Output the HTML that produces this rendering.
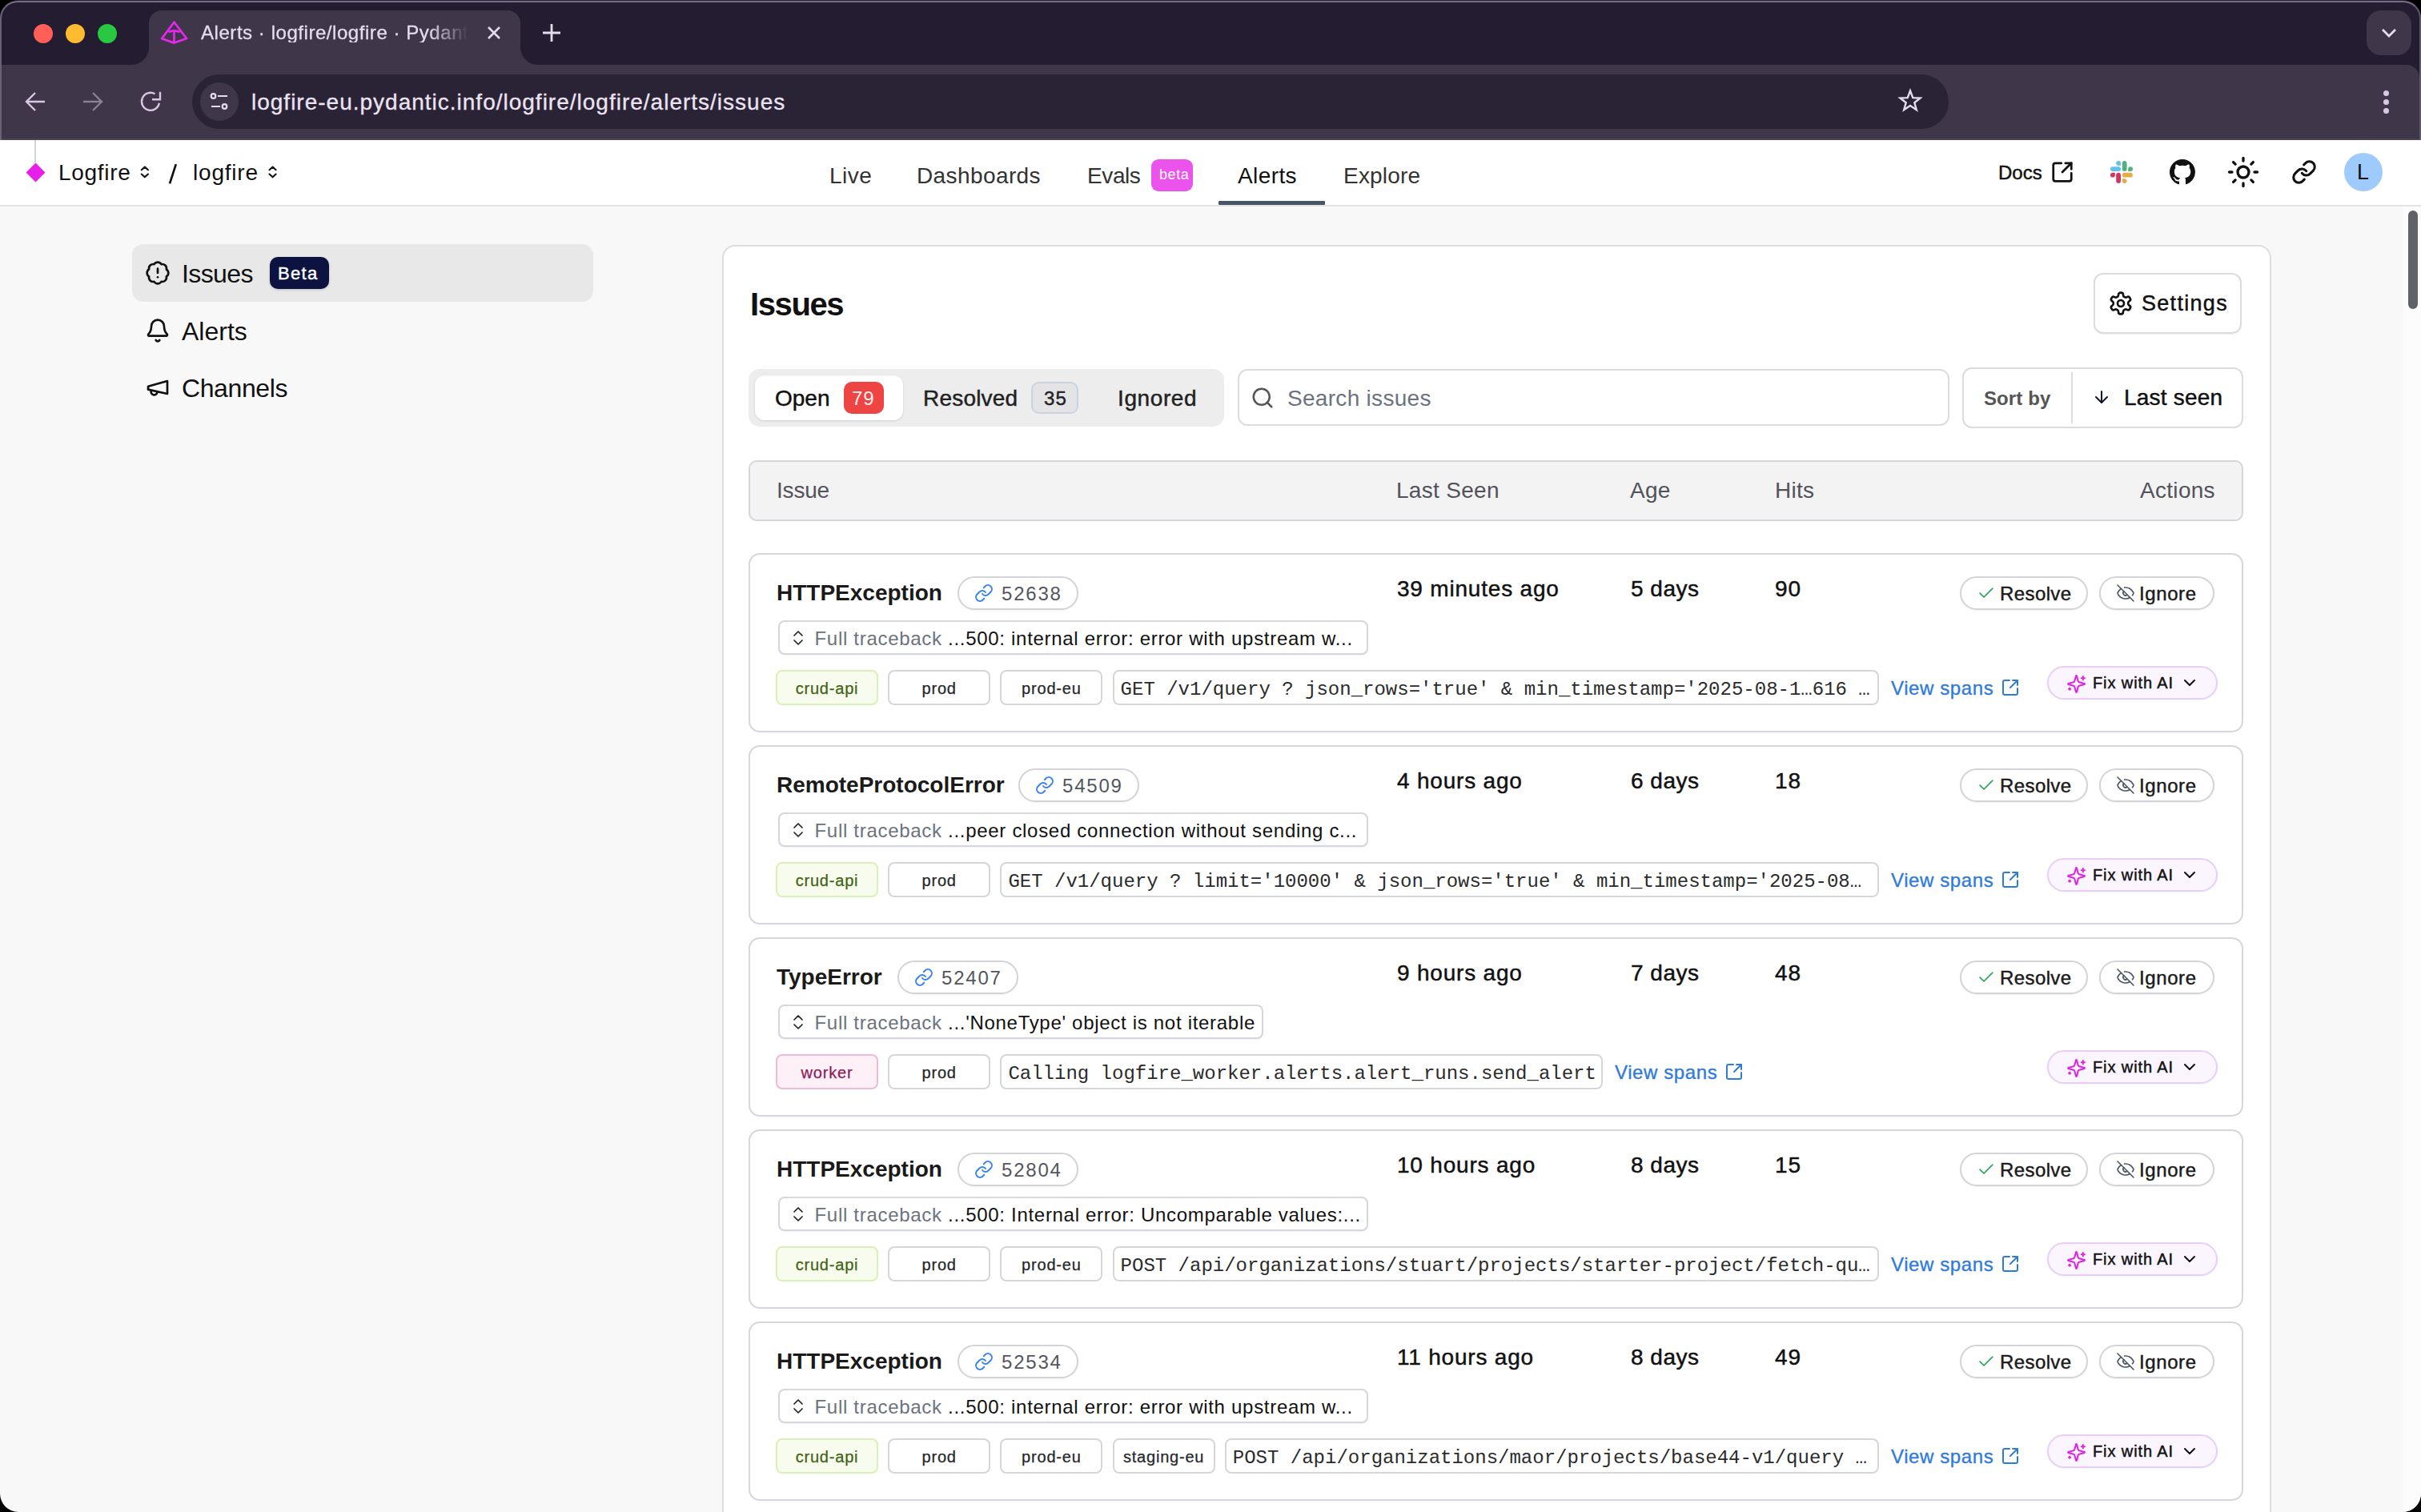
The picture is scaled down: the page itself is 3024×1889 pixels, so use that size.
<!DOCTYPE html>
<html><head><meta charset="utf-8">
<style>
*{box-sizing:border-box;margin:0;padding:0}
html,body{width:3024px;height:1889px;overflow:hidden;background:#000}
body{position:relative;font-family:"Liberation Sans",sans-serif;color:#111}
.a{position:absolute}
.t{position:absolute;white-space:nowrap;line-height:1}
svg{position:absolute;overflow:visible}
#win{left:0;top:0;width:3024px;height:175px;border-radius:22px 22px 0 0;overflow:hidden;background:#241c30}
#winborder{left:0;top:1px;width:3024px;height:174px;border-radius:22px 22px 0 0;border:2px solid #776d86;border-bottom:none;border-left-color:#6a6274;border-right-color:#5f586a;pointer-events:none}
#toolbar{left:0;top:81px;width:3022px;height:94px;background:#3f3649;border-top-right-radius:16px}
#tab{left:186px;top:13px;width:464px;height:70px;background:#3f3649;border-radius:16px 16px 0 0}
.tl{width:24px;height:24px;border-radius:50%;top:30px}
#omni{left:240px;top:93px;width:2194px;height:68px;border-radius:34px;background:#2a2235}
</style></head><body>

<div id='pg' class='a' style='left:0;top:0;width:3024px;height:1889px;overflow:hidden;border-radius:0 0 23px 23px'>
<div class="a" style="left:0px;top:175px;width:3024px;height:1714px;background:#f8f8f8"></div>
<div class="a" style="left:0px;top:175px;width:3024px;height:81px;background:#fff"></div>
<div class="a" style="left:0px;top:256px;width:3024px;height:2px;background:#e3e3e7"></div>
<div class="a" style="left:43px;top:175px;width:2px;height:28px;background:#d1d5db"></div>
<div class="a" style="left:35.5px;top:206.5px;width:17px;height:17px;background:#e620e9;transform:rotate(45deg)"></div>
<div class="t" style="left:73px;top:201.5px;font-size:28px;color:#111;letter-spacing:0.7px;">Logfire</div>
<svg style="left:170px;top:200px" width="200" height="35" viewBox="0 0 200 35" fill="none" stroke="#111" stroke-width="2.1" stroke-linecap="round" stroke-linejoin="round"><path d="M6.8 12.2L10.9 8.6L14.9 12.2M6.8 17.5L10.9 21.3L14.9 17.5M166.5 12.2L170.6 8.6L174.6 12.2M166.5 17.5L170.6 21.3L174.6 17.5"/><path d="M49.8 5.2L42 29.4" stroke-width="2.7" stroke-linecap="butt"/></svg>
<div class="t" style="left:241px;top:201.5px;font-size:28px;color:#111;letter-spacing:0.8px;">logfire</div>
<div class="t" style="left:1036px;top:205.7px;font-size:28px;color:#333;letter-spacing:0.5px;">Live</div>
<div class="t" style="left:1145px;top:205.7px;font-size:28px;color:#333;letter-spacing:0.4px;">Dashboards</div>
<div class="t" style="left:1358px;top:205.7px;font-size:28px;color:#333;letter-spacing:-0.4px;">Evals</div>
<div class="a" style="left:1438px;top:199px;width:52px;height:40px;background:#ec52ec;border-radius:9px"></div>
<div class="t" style="left:1448px;top:209.2px;font-size:18px;color:#fff;letter-spacing:0.6px;">beta</div>
<div class="t" style="left:1546px;top:205.7px;font-size:28px;color:#111;letter-spacing:0.4px;">Alerts</div>
<div class="a" style="left:1522px;top:251px;width:133px;height:5px;background:#475569;border-radius:1px"></div>
<div class="t" style="left:1678px;top:205.7px;font-size:28px;color:#333;letter-spacing:0.2px;">Explore</div>
<div class="t" style="left:2496px;top:203.6px;font-size:24px;color:#111;-webkit-text-stroke:0.45px currentColor;">Docs</div>
<svg style="left:2561px;top:200px" width="30" height="30" viewBox="0 0 24 24" fill="none" stroke="#111" stroke-width="2.2" stroke-linecap="round" stroke-linejoin="round" ><path d="M21 13v6a2 2 0 0 1-2 2H5a2 2 0 0 1-2-2V5a2 2 0 0 1 2-2h6"/><path d="m21 3-9 9"/><path d="M15 3h6v6"/></svg>
<svg style="left:2634px;top:199px" width="32" height="32" viewBox="0 0 32 32">
<path d="M15 7.8H12.1A2.9 2.9 0 1 1 15 4.9Z" fill="#63c1e9"/>
<rect x="2" y="9.2" width="13" height="5.8" rx="2.9" fill="#63c1e9"/>
<rect x="16.8" y="2" width="5.8" height="13" rx="2.9" fill="#55b07f"/>
<path d="M24.2 15V12.1A2.9 2.9 0 1 1 27.1 15Z" fill="#55b07f"/>
<path d="M7.8 16.8V19.7A2.9 2.9 0 1 1 4.9 16.8Z" fill="#cf3760"/>
<rect x="9.2" y="16.8" width="5.8" height="13" rx="2.9" fill="#cf3760"/>
<rect x="16.8" y="16.8" width="13" height="5.8" rx="2.9" fill="#e1ae45"/>
<path d="M16.8 24.2H19.7A2.9 2.9 0 1 1 16.8 27.1Z" fill="#e1ae45"/>
</svg>
<svg style="left:2710px;top:199px" width="32" height="32" viewBox="0 0 16 16"><path fill="#111" d="M8 0C3.58 0 0 3.58 0 8c0 3.54 2.29 6.53 5.47 7.59.4.07.55-.17.55-.38 0-.19-.01-.82-.01-1.49-2.01.37-2.53-.49-2.69-.94-.09-.23-.48-.94-.82-1.13-.28-.15-.68-.52-.01-.53.63-.01 1.08.58 1.23.82.72 1.21 1.87.87 2.33.66.07-.52.28-.87.51-1.07-1.78-.2-3.64-.89-3.64-3.95 0-.87.31-1.59.82-2.15-.08-.2-.36-1.02.08-2.12 0 0 .67-.21 2.2.82.64-.18 1.32-.27 2-.27.68 0 1.36.09 2 .27 1.53-1.04 2.2-.82 2.2-.82.44 1.1.16 1.92.08 2.12.51.56.82 1.27.82 2.15 0 3.07-1.87 3.75-3.65 3.95.29.25.54.73.54 1.48 0 1.07-.01 1.93-.01 2.2 0 .21.15.46.55.38A8.013 8.013 0 0016 8c0-4.42-3.58-8-8-8z"/></svg>
<svg style="left:2781px;top:194px" width="42" height="42" viewBox="0 0 24 24" fill="none" stroke="#111" stroke-width="1.9" stroke-linecap="round" stroke-linejoin="round" ><circle cx="12" cy="12" r="4"/><path d="M12 2v2"/><path d="M12 20v2"/><path d="m4.93 4.93 1.41 1.41"/><path d="m17.66 17.66 1.41 1.41"/><path d="M2 12h2"/><path d="M20 12h2"/><path d="m6.34 17.66-1.41 1.41"/><path d="m19.07 4.93-1.41 1.41"/></svg>
<svg style="left:2862px;top:199px" width="32" height="32" viewBox="0 0 24 24" fill="none" stroke="#111" stroke-width="2.3" stroke-linecap="round" stroke-linejoin="round" ><path d="M10 13a5 5 0 0 0 7.54.54l3-3a5 5 0 0 0-7.07-7.07l-1.72 1.71"/><path d="M14 11a5 5 0 0 0-7.54-.54l-3 3a5 5 0 0 0 7.07 7.07l1.71-1.71"/></svg>
<div class="a" style="left:2928px;top:190.5px;width:48px;height:48px;background:#9ecbfb;border-radius:50%"></div>
<div class="t" style="left:2944px;top:202.1px;font-size:27px;color:#111;">L</div>
<div class="a" style="left:165px;top:305px;width:576px;height:72px;background:#e8e8e8;border-radius:14px"></div>
<svg style="left:181px;top:325.4px" width="32" height="32" viewBox="0 0 24 24" fill="none" stroke="#111" stroke-width="2" stroke-linecap="round" stroke-linejoin="round" ><path d="M3.85 8.62a4 4 0 0 1 4.78-4.77 4 4 0 0 1 6.74 0 4 4 0 0 1 4.78 4.78 4 4 0 0 1 0 6.74 4 4 0 0 1-4.77 4.78 4 4 0 0 1-6.75 0 4 4 0 0 1-4.78-4.77 4 4 0 0 1 0-6.76Z"/><line x1="12" x2="12" y1="8" y2="12"/><line x1="12" x2="12.01" y1="16" y2="16"/></svg>
<div class="t" style="left:227px;top:325.8px;font-size:32px;color:#111;letter-spacing:-0.6px;">Issues</div>
<div class="a" style="left:337px;top:321px;width:74px;height:40px;background:#0c1340;border-radius:10px;box-shadow:0 1px 3px rgba(0,0,0,.2)"></div>
<div class="t" style="left:347px;top:330.8px;font-size:22px;color:#fff;-webkit-text-stroke:0.45px currentColor;letter-spacing:1.3px;-webkit-text-stroke:0.4px #fff;">Beta</div>
<svg style="left:181px;top:396.7px" width="32" height="32" viewBox="0 0 24 24" fill="none" stroke="#111" stroke-width="2" stroke-linecap="round" stroke-linejoin="round" ><path d="M10.268 21a2 2 0 0 0 3.464 0"/><path d="M3.262 15.326A1 1 0 0 0 4 17h16a1 1 0 0 0 .74-1.673C19.41 13.956 18 12.499 18 8A6 6 0 0 0 6 8c0 4.499-1.411 5.956-2.738 7.326"/></svg>
<div class="t" style="left:227px;top:397.8px;font-size:32px;color:#111;">Alerts</div>
<svg style="left:181.3px;top:468.3px" width="32" height="32" viewBox="0 0 24 24" fill="none" stroke="#111" stroke-width="2" stroke-linecap="round" stroke-linejoin="round" ><path d="m3 11 18-5v12L3 14v-3z"/><path d="M11.6 16.8a3 3 0 1 1-5.8-1.6"/></svg>
<div class="t" style="left:227px;top:468.8px;font-size:32px;color:#111;letter-spacing:-0.4px;">Channels</div>
<div class="a" style="left:902px;top:306px;width:1935px;height:1700px;background:#fff;border:2px solid #dcdce1;border-radius:16px"></div>
<div class="t" style="left:937px;top:360.0px;font-size:40px;color:#111;font-weight:700;letter-spacing:-1.4px;">Issues</div>
<div class="a" style="left:2615px;top:341px;width:185px;height:76px;background:#fff;border:2px solid #dcdce0;border-radius:12px;box-shadow:0 1px 2px rgba(0,0,0,.06)"></div>
<svg style="left:2633px;top:363px" width="32" height="32" viewBox="0 0 24 24" fill="none" stroke="#111" stroke-width="2" stroke-linecap="round" stroke-linejoin="round" ><path d="M12.22 2h-.44a2 2 0 0 0-2 2v.18a2 2 0 0 1-1 1.73l-.43.25a2 2 0 0 1-2 0l-.15-.08a2 2 0 0 0-2.73.73l-.22.38a2 2 0 0 0 .73 2.73l.15.1a2 2 0 0 1 1 1.72v.51a2 2 0 0 1-1 1.74l-.15.09a2 2 0 0 0-.73 2.73l.22.38a2 2 0 0 0 2.73.73l.15-.08a2 2 0 0 1 2 0l.43.25a2 2 0 0 1 1 1.73V20a2 2 0 0 0 2 2h.44a2 2 0 0 0 2-2v-.18a2 2 0 0 1 1-1.73l.43-.25a2 2 0 0 1 2 0l.15.08a2 2 0 0 0 2.73-.73l.22-.39a2 2 0 0 0-.73-2.73l-.15-.08a2 2 0 0 1-1-1.74v-.5a2 2 0 0 1 1-1.74l.15-.09a2 2 0 0 0 .73-2.73l-.22-.38a2 2 0 0 0-2.73-.73l-.15.08a2 2 0 0 1-2 0l-.43-.25a2 2 0 0 1-1-1.73V4a2 2 0 0 0-2-2z"/><circle cx="12" cy="12" r="3"/></svg>
<div class="t" style="left:2675px;top:365.8px;font-size:27px;color:#111;-webkit-text-stroke:0.45px currentColor;letter-spacing:1.3px;">Settings</div>
<div class="a" style="left:935px;top:461px;width:594px;height:72px;background:#ededed;border-radius:14px"></div>
<div class="a" style="left:943px;top:469px;width:185px;height:56px;background:#fff;border-radius:12px;box-shadow:0 1px 3px rgba(0,0,0,.12)"></div>
<div class="t" style="left:968px;top:483.6px;font-size:28px;color:#111;-webkit-text-stroke:0.45px currentColor;letter-spacing:0px;">Open</div>
<div class="a" style="left:1054px;top:477px;width:50px;height:40px;background:#ef4444;border-radius:10px"></div>
<div class="t" style="left:1064px;top:485.6px;font-size:24px;color:#fdf0f0;letter-spacing:1.0px;">79</div>
<div class="t" style="left:1153px;top:483.6px;font-size:28px;color:#222;-webkit-text-stroke:0.45px currentColor;letter-spacing:0.2px;">Resolved</div>
<div class="a" style="left:1288px;top:477px;width:59px;height:40px;background:#e4e4e7;border:2px solid #cad3e0;border-radius:10px"></div>
<div class="t" style="left:1304px;top:485.6px;font-size:24px;color:#222;-webkit-text-stroke:0.45px currentColor;letter-spacing:1.2px;">35</div>
<div class="t" style="left:1396px;top:483.6px;font-size:28px;color:#222;-webkit-text-stroke:0.45px currentColor;letter-spacing:0.6px;">Ignored</div>
<div class="a" style="left:1546px;top:461px;width:889px;height:71px;background:#fff;border:2px solid #dcdcdf;border-radius:12px"></div>
<svg style="left:1562px;top:482px" width="30" height="30" viewBox="0 0 24 24" fill="none" stroke="#555" stroke-width="2" stroke-linecap="round" stroke-linejoin="round" ><circle cx="11" cy="11" r="8"/><path d="m21 21-4.3-4.3"/></svg>
<div class="t" style="left:1608px;top:484.2px;font-size:28px;color:#6b7280;letter-spacing:0.3px;">Search issues</div>
<div class="a" style="left:2451px;top:459px;width:351px;height:76px;background:#fff;border:2px solid #dcdcdf;border-radius:12px"></div>
<div class="a" style="left:2587px;top:465px;width:2px;height:64px;background:#dcdde1"></div>
<div class="t" style="left:2478px;top:485.9px;font-size:24px;color:#555;font-weight:700;letter-spacing:0.1px;">Sort by</div>
<svg style="left:2613px;top:484px" width="24" height="24" viewBox="0 0 24 24" fill="none" stroke="#0f172a" stroke-width="2" stroke-linecap="round" stroke-linejoin="round" ><path d="M12 5v14"/><path d="m19 12-7 7-7-7"/></svg>
<div class="t" style="left:2653px;top:482.7px;font-size:28px;color:#111;-webkit-text-stroke:0.45px currentColor;letter-spacing:0.2px;">Last seen</div>
<div class="a" style="left:935px;top:575px;width:1867px;height:76px;background:#f3f3f4;border:2px solid #d5d6db;border-radius:10px"></div>
<div class="t" style="left:970px;top:599.2px;font-size:28px;color:#52525b;letter-spacing:-0.2px;">Issue</div>
<div class="t" style="left:1744px;top:599.2px;font-size:28px;color:#52525b;letter-spacing:0.3px;">Last Seen</div>
<div class="t" style="left:2036px;top:599.2px;font-size:28px;color:#52525b;letter-spacing:0.3px;">Age</div>
<div class="t" style="left:2217px;top:599.2px;font-size:28px;color:#52525b;letter-spacing:0.3px;">Hits</div>
<div class="t" style="left:2673px;top:599.2px;font-size:28px;color:#52525b;letter-spacing:0.3px;">Actions</div>
<div class="a" style="left:935px;top:691px;width:1867px;height:224px;background:#fff;border:2px solid #d5d7dc;border-radius:14px"></div>
<div class="t" style="left:970px;top:727.2px;font-size:28px;color:#1a1a1a;font-weight:700;letter-spacing:0px;">HTTPException</div>
<div class="a" style="left:1196px;top:720px;width:151px;height:42px;background:#fff;border:2px solid #d4d4d8;border-radius:21px;box-shadow:0 1px 2px rgba(0,0,0,.05)"></div>
<svg style="left:1217px;top:729px" width="24" height="24" viewBox="0 0 24 24" fill="none" stroke="#3b82f6" stroke-width="2" stroke-linecap="round" stroke-linejoin="round" ><path d="M10 13a5 5 0 0 0 7.54.54l3-3a5 5 0 0 0-7.07-7.07l-1.72 1.71"/><path d="M14 11a5 5 0 0 0-7.54-.54l-3 3a5 5 0 0 0 7.07 7.07l1.71-1.71"/></svg>
<div class="t" style="left:1251px;top:729.6px;font-size:24px;color:#52575e;letter-spacing:1.8px;">52638</div>
<div class="t" style="left:1745px;top:722.2px;font-size:28px;color:#111;-webkit-text-stroke:0.45px currentColor;letter-spacing:0.8px;">39 minutes ago</div>
<div class="t" style="left:2037px;top:722.2px;font-size:28px;color:#111;-webkit-text-stroke:0.45px currentColor;letter-spacing:0.5px;">5 days</div>
<div class="t" style="left:2217px;top:722.2px;font-size:28px;color:#111;-webkit-text-stroke:0.45px currentColor;letter-spacing:1.0px;">90</div>
<div class="a" style="left:2448px;top:720px;width:160px;height:42px;background:#fff;border:2px solid #d4d4d8;border-radius:21px;box-shadow:0 1px 2px rgba(0,0,0,.06)"></div>
<svg style="left:2469px;top:729px" width="24" height="24" viewBox="0 0 24 24" fill="none" stroke="#16a34a" stroke-width="1.6" stroke-linecap="round" stroke-linejoin="round" ><path d="M20 6 9 17l-5-5"/></svg>
<div class="t" style="left:2498px;top:729.6px;font-size:24px;color:#1a1a1a;-webkit-text-stroke:0.45px currentColor;letter-spacing:0.4px;">Resolve</div>
<div class="a" style="left:2622px;top:720px;width:144px;height:42px;background:#fff;border:2px solid #d4d4d8;border-radius:21px;box-shadow:0 1px 2px rgba(0,0,0,.06)"></div>
<svg style="left:2643px;top:729px" width="24" height="24" viewBox="0 0 24 24" fill="none" stroke="#4b5563" stroke-width="1.6" stroke-linecap="round" stroke-linejoin="round" ><path d="M10.733 5.076a10.744 10.744 0 0 1 11.205 6.575 1 1 0 0 1 0 .696 10.747 10.747 0 0 1-1.444 2.49"/><path d="M14.084 14.158a3 3 0 0 1-4.242-4.242"/><path d="M17.479 17.499a10.75 10.75 0 0 1-15.417-5.151 1 1 0 0 1 0-.696 10.75 10.75 0 0 1 4.446-5.143"/><path d="m2 2 20 20"/></svg>
<div class="t" style="left:2672px;top:729.6px;font-size:24px;color:#1a1a1a;-webkit-text-stroke:0.45px currentColor;letter-spacing:0.6px;">Ignore</div>
<div class="a" style="left:972px;top:775px;width:737px;height:43px;background:#fff;border:2px solid #d6d6dc;border-radius:8px;box-shadow:0 1px 2px rgba(0,0,0,.06)"></div>
<svg style="left:985px;top:785px" width="24" height="24" viewBox="0 0 24 24" fill="none" stroke="#222" stroke-width="1.7" stroke-linecap="round" stroke-linejoin="round" ><path d="m7 15 5 5 5-5"/><path d="m7 9 5-5 5 5"/></svg>
<div class="t" style="left:1017.5px;top:785.6px;font-size:24px;color:#111;letter-spacing:0.7px;"><span style="color:#6b7280">Full traceback</span> ...500: internal error: error with upstream w...</div>
<div class="a" style="left:969px;top:837px;width:128px;height:44px;background:#f7fcee;border:2px solid #d9f1b2;border-radius:8px"></div>
<div class="t" style="left:969px;top:849.5px;font-size:20px;color:#416414;letter-spacing:0.8px;width:128px;text-align:center;-webkit-text-stroke:0.25px #416414;">crud-api</div>
<div class="a" style="left:1109.2px;top:837px;width:128px;height:44px;background:#fff;border:2px solid #d4d6db;border-radius:8px"></div>
<div class="t" style="left:1109.2px;top:849.5px;font-size:20px;color:#27272a;letter-spacing:0.8px;width:128px;text-align:center;-webkit-text-stroke:0.25px #27272a;">prod</div>
<div class="a" style="left:1249.4px;top:837px;width:128px;height:44px;background:#fff;border:2px solid #d4d6db;border-radius:8px"></div>
<div class="t" style="left:1249.4px;top:849.5px;font-size:20px;color:#27272a;letter-spacing:0.8px;width:128px;text-align:center;-webkit-text-stroke:0.25px #27272a;">prod-eu</div>
<div class="a" style="left:1389.6000000000001px;top:837px;width:957.3999999999999px;height:44px;background:#fff;border:2px solid #d4d6db;border-radius:8px"></div>
<div class="t" style="left:1399.6000000000001px;top:849.8px;font-size:24px;color:#2b2b2b;letter-spacing:0px;font-family:'Liberation Mono',monospace;width:937.3999999999999px;overflow:hidden;">GET /v1/query ? json_rows=&#x27;true&#x27; &amp; min_timestamp=&#x27;2025-08-1…616 …</div>
<div class="t" style="left:2362px;top:847.6px;font-size:24px;color:#2f7bd9;letter-spacing:0.6px;-webkit-text-stroke:0.35px #2f7bd9;">View spans</div>
<svg style="left:2499px;top:847px" width="24" height="24" viewBox="0 0 24 24" fill="none" stroke="#2f7bd9" stroke-width="2" stroke-linecap="round" stroke-linejoin="round" ><path d="M21 13v6a2 2 0 0 1-2 2H5a2 2 0 0 1-2-2V5a2 2 0 0 1 2-2h6"/><path d="m21 3-9 9"/><path d="M15 3h6v6"/></svg>
<div class="a" style="left:2557px;top:832px;width:213px;height:42px;background:#faf5ff;border:2px solid #e8cffa;border-radius:21px;box-shadow:0 1px 2px rgba(0,0,0,.05)"></div>
<svg style="left:2581px;top:842px" width="25" height="25" viewBox="0 0 24 24" fill="none" stroke="#e026e5" stroke-width="2" stroke-linecap="round" stroke-linejoin="round" ><path d="M9.937 15.5A2 2 0 0 0 8.5 14.063l-6.135-1.582a.5.5 0 0 1 0-.962L8.5 9.936A2 2 0 0 0 9.937 8.5l1.582-6.135a.5.5 0 0 1 .963 0L14.063 8.5A2 2 0 0 0 15.5 9.937l6.135 1.581a.5.5 0 0 1 0 .964L15.5 14.063a2 2 0 0 0-1.437 1.437l-1.582 6.135a.5.5 0 0 1-.963 0z"/><path d="M20 3v4"/><path d="M22 5h-4"/><path d="M4 17v2"/><path d="M5 18H3"/></svg>
<div class="t" style="left:2614px;top:843.0px;font-size:20px;color:#111;-webkit-text-stroke:0.45px currentColor;letter-spacing:0.9px;">Fix with AI</div>
<svg style="left:2723px;top:841px" width="24" height="24" viewBox="0 0 24 24" fill="none" stroke="#111" stroke-width="2" stroke-linecap="round" stroke-linejoin="round" ><path d="m6 9 6 6 6-6"/></svg>
<div class="a" style="left:935px;top:931px;width:1867px;height:224px;background:#fff;border:2px solid #d5d7dc;border-radius:14px"></div>
<div class="t" style="left:970px;top:967.2px;font-size:28px;color:#1a1a1a;font-weight:700;letter-spacing:0px;">RemoteProtocolError</div>
<div class="a" style="left:1272px;top:960px;width:151px;height:42px;background:#fff;border:2px solid #d4d4d8;border-radius:21px;box-shadow:0 1px 2px rgba(0,0,0,.05)"></div>
<svg style="left:1293px;top:969px" width="24" height="24" viewBox="0 0 24 24" fill="none" stroke="#3b82f6" stroke-width="2" stroke-linecap="round" stroke-linejoin="round" ><path d="M10 13a5 5 0 0 0 7.54.54l3-3a5 5 0 0 0-7.07-7.07l-1.72 1.71"/><path d="M14 11a5 5 0 0 0-7.54-.54l-3 3a5 5 0 0 0 7.07 7.07l1.71-1.71"/></svg>
<div class="t" style="left:1327px;top:969.6px;font-size:24px;color:#52575e;letter-spacing:1.8px;">54509</div>
<div class="t" style="left:1745px;top:962.2px;font-size:28px;color:#111;-webkit-text-stroke:0.45px currentColor;letter-spacing:0.8px;">4 hours ago</div>
<div class="t" style="left:2037px;top:962.2px;font-size:28px;color:#111;-webkit-text-stroke:0.45px currentColor;letter-spacing:0.5px;">6 days</div>
<div class="t" style="left:2217px;top:962.2px;font-size:28px;color:#111;-webkit-text-stroke:0.45px currentColor;letter-spacing:1.0px;">18</div>
<div class="a" style="left:2448px;top:960px;width:160px;height:42px;background:#fff;border:2px solid #d4d4d8;border-radius:21px;box-shadow:0 1px 2px rgba(0,0,0,.06)"></div>
<svg style="left:2469px;top:969px" width="24" height="24" viewBox="0 0 24 24" fill="none" stroke="#16a34a" stroke-width="1.6" stroke-linecap="round" stroke-linejoin="round" ><path d="M20 6 9 17l-5-5"/></svg>
<div class="t" style="left:2498px;top:969.6px;font-size:24px;color:#1a1a1a;-webkit-text-stroke:0.45px currentColor;letter-spacing:0.4px;">Resolve</div>
<div class="a" style="left:2622px;top:960px;width:144px;height:42px;background:#fff;border:2px solid #d4d4d8;border-radius:21px;box-shadow:0 1px 2px rgba(0,0,0,.06)"></div>
<svg style="left:2643px;top:969px" width="24" height="24" viewBox="0 0 24 24" fill="none" stroke="#4b5563" stroke-width="1.6" stroke-linecap="round" stroke-linejoin="round" ><path d="M10.733 5.076a10.744 10.744 0 0 1 11.205 6.575 1 1 0 0 1 0 .696 10.747 10.747 0 0 1-1.444 2.49"/><path d="M14.084 14.158a3 3 0 0 1-4.242-4.242"/><path d="M17.479 17.499a10.75 10.75 0 0 1-15.417-5.151 1 1 0 0 1 0-.696 10.75 10.75 0 0 1 4.446-5.143"/><path d="m2 2 20 20"/></svg>
<div class="t" style="left:2672px;top:969.6px;font-size:24px;color:#1a1a1a;-webkit-text-stroke:0.45px currentColor;letter-spacing:0.6px;">Ignore</div>
<div class="a" style="left:972px;top:1015px;width:737px;height:43px;background:#fff;border:2px solid #d6d6dc;border-radius:8px;box-shadow:0 1px 2px rgba(0,0,0,.06)"></div>
<svg style="left:985px;top:1025px" width="24" height="24" viewBox="0 0 24 24" fill="none" stroke="#222" stroke-width="1.7" stroke-linecap="round" stroke-linejoin="round" ><path d="m7 15 5 5 5-5"/><path d="m7 9 5-5 5 5"/></svg>
<div class="t" style="left:1017.5px;top:1025.6px;font-size:24px;color:#111;letter-spacing:0.7px;"><span style="color:#6b7280">Full traceback</span> ...peer closed connection without sending c...</div>
<div class="a" style="left:969px;top:1077px;width:128px;height:44px;background:#f7fcee;border:2px solid #d9f1b2;border-radius:8px"></div>
<div class="t" style="left:969px;top:1089.5px;font-size:20px;color:#416414;letter-spacing:0.8px;width:128px;text-align:center;-webkit-text-stroke:0.25px #416414;">crud-api</div>
<div class="a" style="left:1109.2px;top:1077px;width:128px;height:44px;background:#fff;border:2px solid #d4d6db;border-radius:8px"></div>
<div class="t" style="left:1109.2px;top:1089.5px;font-size:20px;color:#27272a;letter-spacing:0.8px;width:128px;text-align:center;-webkit-text-stroke:0.25px #27272a;">prod</div>
<div class="a" style="left:1249.4px;top:1077px;width:1097.6px;height:44px;background:#fff;border:2px solid #d4d6db;border-radius:8px"></div>
<div class="t" style="left:1259.4px;top:1089.8px;font-size:24px;color:#2b2b2b;letter-spacing:0px;font-family:'Liberation Mono',monospace;width:1077.6px;overflow:hidden;">GET /v1/query ? limit=&#x27;10000&#x27; &amp; json_rows=&#x27;true&#x27; &amp; min_timestamp=&#x27;2025-08…</div>
<div class="t" style="left:2362px;top:1087.6px;font-size:24px;color:#2f7bd9;letter-spacing:0.6px;-webkit-text-stroke:0.35px #2f7bd9;">View spans</div>
<svg style="left:2499px;top:1087px" width="24" height="24" viewBox="0 0 24 24" fill="none" stroke="#2f7bd9" stroke-width="2" stroke-linecap="round" stroke-linejoin="round" ><path d="M21 13v6a2 2 0 0 1-2 2H5a2 2 0 0 1-2-2V5a2 2 0 0 1 2-2h6"/><path d="m21 3-9 9"/><path d="M15 3h6v6"/></svg>
<div class="a" style="left:2557px;top:1072px;width:213px;height:42px;background:#faf5ff;border:2px solid #e8cffa;border-radius:21px;box-shadow:0 1px 2px rgba(0,0,0,.05)"></div>
<svg style="left:2581px;top:1082px" width="25" height="25" viewBox="0 0 24 24" fill="none" stroke="#e026e5" stroke-width="2" stroke-linecap="round" stroke-linejoin="round" ><path d="M9.937 15.5A2 2 0 0 0 8.5 14.063l-6.135-1.582a.5.5 0 0 1 0-.962L8.5 9.936A2 2 0 0 0 9.937 8.5l1.582-6.135a.5.5 0 0 1 .963 0L14.063 8.5A2 2 0 0 0 15.5 9.937l6.135 1.581a.5.5 0 0 1 0 .964L15.5 14.063a2 2 0 0 0-1.437 1.437l-1.582 6.135a.5.5 0 0 1-.963 0z"/><path d="M20 3v4"/><path d="M22 5h-4"/><path d="M4 17v2"/><path d="M5 18H3"/></svg>
<div class="t" style="left:2614px;top:1083.0px;font-size:20px;color:#111;-webkit-text-stroke:0.45px currentColor;letter-spacing:0.9px;">Fix with AI</div>
<svg style="left:2723px;top:1081px" width="24" height="24" viewBox="0 0 24 24" fill="none" stroke="#111" stroke-width="2" stroke-linecap="round" stroke-linejoin="round" ><path d="m6 9 6 6 6-6"/></svg>
<div class="a" style="left:935px;top:1171px;width:1867px;height:224px;background:#fff;border:2px solid #d5d7dc;border-radius:14px"></div>
<div class="t" style="left:970px;top:1207.2px;font-size:28px;color:#1a1a1a;font-weight:700;letter-spacing:0px;">TypeError</div>
<div class="a" style="left:1121px;top:1200px;width:151px;height:42px;background:#fff;border:2px solid #d4d4d8;border-radius:21px;box-shadow:0 1px 2px rgba(0,0,0,.05)"></div>
<svg style="left:1142px;top:1209px" width="24" height="24" viewBox="0 0 24 24" fill="none" stroke="#3b82f6" stroke-width="2" stroke-linecap="round" stroke-linejoin="round" ><path d="M10 13a5 5 0 0 0 7.54.54l3-3a5 5 0 0 0-7.07-7.07l-1.72 1.71"/><path d="M14 11a5 5 0 0 0-7.54-.54l-3 3a5 5 0 0 0 7.07 7.07l1.71-1.71"/></svg>
<div class="t" style="left:1176px;top:1209.6px;font-size:24px;color:#52575e;letter-spacing:1.8px;">52407</div>
<div class="t" style="left:1745px;top:1202.2px;font-size:28px;color:#111;-webkit-text-stroke:0.45px currentColor;letter-spacing:0.8px;">9 hours ago</div>
<div class="t" style="left:2037px;top:1202.2px;font-size:28px;color:#111;-webkit-text-stroke:0.45px currentColor;letter-spacing:0.5px;">7 days</div>
<div class="t" style="left:2217px;top:1202.2px;font-size:28px;color:#111;-webkit-text-stroke:0.45px currentColor;letter-spacing:1.0px;">48</div>
<div class="a" style="left:2448px;top:1200px;width:160px;height:42px;background:#fff;border:2px solid #d4d4d8;border-radius:21px;box-shadow:0 1px 2px rgba(0,0,0,.06)"></div>
<svg style="left:2469px;top:1209px" width="24" height="24" viewBox="0 0 24 24" fill="none" stroke="#16a34a" stroke-width="1.6" stroke-linecap="round" stroke-linejoin="round" ><path d="M20 6 9 17l-5-5"/></svg>
<div class="t" style="left:2498px;top:1209.6px;font-size:24px;color:#1a1a1a;-webkit-text-stroke:0.45px currentColor;letter-spacing:0.4px;">Resolve</div>
<div class="a" style="left:2622px;top:1200px;width:144px;height:42px;background:#fff;border:2px solid #d4d4d8;border-radius:21px;box-shadow:0 1px 2px rgba(0,0,0,.06)"></div>
<svg style="left:2643px;top:1209px" width="24" height="24" viewBox="0 0 24 24" fill="none" stroke="#4b5563" stroke-width="1.6" stroke-linecap="round" stroke-linejoin="round" ><path d="M10.733 5.076a10.744 10.744 0 0 1 11.205 6.575 1 1 0 0 1 0 .696 10.747 10.747 0 0 1-1.444 2.49"/><path d="M14.084 14.158a3 3 0 0 1-4.242-4.242"/><path d="M17.479 17.499a10.75 10.75 0 0 1-15.417-5.151 1 1 0 0 1 0-.696 10.75 10.75 0 0 1 4.446-5.143"/><path d="m2 2 20 20"/></svg>
<div class="t" style="left:2672px;top:1209.6px;font-size:24px;color:#1a1a1a;-webkit-text-stroke:0.45px currentColor;letter-spacing:0.6px;">Ignore</div>
<div class="a" style="left:972px;top:1255px;width:606px;height:43px;background:#fff;border:2px solid #d6d6dc;border-radius:8px;box-shadow:0 1px 2px rgba(0,0,0,.06)"></div>
<svg style="left:985px;top:1265px" width="24" height="24" viewBox="0 0 24 24" fill="none" stroke="#222" stroke-width="1.7" stroke-linecap="round" stroke-linejoin="round" ><path d="m7 15 5 5 5-5"/><path d="m7 9 5-5 5 5"/></svg>
<div class="t" style="left:1017.5px;top:1265.6px;font-size:24px;color:#111;letter-spacing:0.7px;"><span style="color:#6b7280">Full traceback</span> ...&#x27;NoneType&#x27; object is not iterable</div>
<div class="a" style="left:969px;top:1317px;width:128px;height:44px;background:#fdf0f7;border:2px solid #f0b9d6;border-radius:8px"></div>
<div class="t" style="left:969px;top:1329.5px;font-size:20px;color:#8a1c5c;letter-spacing:0.8px;width:128px;text-align:center;-webkit-text-stroke:0.25px #8a1c5c;">worker</div>
<div class="a" style="left:1109.2px;top:1317px;width:128px;height:44px;background:#fff;border:2px solid #d4d6db;border-radius:8px"></div>
<div class="t" style="left:1109.2px;top:1329.5px;font-size:20px;color:#27272a;letter-spacing:0.8px;width:128px;text-align:center;-webkit-text-stroke:0.25px #27272a;">prod</div>
<div class="a" style="left:1249.4px;top:1317px;width:752.5999999999999px;height:44px;background:#fff;border:2px solid #d4d6db;border-radius:8px"></div>
<div class="t" style="left:1259.4px;top:1329.8px;font-size:24px;color:#2b2b2b;letter-spacing:0px;font-family:'Liberation Mono',monospace;width:732.5999999999999px;overflow:hidden;">Calling logfire_worker.alerts.alert_runs.send_alert</div>
<div class="t" style="left:2017px;top:1327.6px;font-size:24px;color:#2f7bd9;letter-spacing:0.6px;-webkit-text-stroke:0.35px #2f7bd9;">View spans</div>
<svg style="left:2154px;top:1327px" width="24" height="24" viewBox="0 0 24 24" fill="none" stroke="#2f7bd9" stroke-width="2" stroke-linecap="round" stroke-linejoin="round" ><path d="M21 13v6a2 2 0 0 1-2 2H5a2 2 0 0 1-2-2V5a2 2 0 0 1 2-2h6"/><path d="m21 3-9 9"/><path d="M15 3h6v6"/></svg>
<div class="a" style="left:2557px;top:1312px;width:213px;height:42px;background:#faf5ff;border:2px solid #e8cffa;border-radius:21px;box-shadow:0 1px 2px rgba(0,0,0,.05)"></div>
<svg style="left:2581px;top:1322px" width="25" height="25" viewBox="0 0 24 24" fill="none" stroke="#e026e5" stroke-width="2" stroke-linecap="round" stroke-linejoin="round" ><path d="M9.937 15.5A2 2 0 0 0 8.5 14.063l-6.135-1.582a.5.5 0 0 1 0-.962L8.5 9.936A2 2 0 0 0 9.937 8.5l1.582-6.135a.5.5 0 0 1 .963 0L14.063 8.5A2 2 0 0 0 15.5 9.937l6.135 1.581a.5.5 0 0 1 0 .964L15.5 14.063a2 2 0 0 0-1.437 1.437l-1.582 6.135a.5.5 0 0 1-.963 0z"/><path d="M20 3v4"/><path d="M22 5h-4"/><path d="M4 17v2"/><path d="M5 18H3"/></svg>
<div class="t" style="left:2614px;top:1323.0px;font-size:20px;color:#111;-webkit-text-stroke:0.45px currentColor;letter-spacing:0.9px;">Fix with AI</div>
<svg style="left:2723px;top:1321px" width="24" height="24" viewBox="0 0 24 24" fill="none" stroke="#111" stroke-width="2" stroke-linecap="round" stroke-linejoin="round" ><path d="m6 9 6 6 6-6"/></svg>
<div class="a" style="left:935px;top:1411px;width:1867px;height:224px;background:#fff;border:2px solid #d5d7dc;border-radius:14px"></div>
<div class="t" style="left:970px;top:1447.2px;font-size:28px;color:#1a1a1a;font-weight:700;letter-spacing:0px;">HTTPException</div>
<div class="a" style="left:1196px;top:1440px;width:151px;height:42px;background:#fff;border:2px solid #d4d4d8;border-radius:21px;box-shadow:0 1px 2px rgba(0,0,0,.05)"></div>
<svg style="left:1217px;top:1449px" width="24" height="24" viewBox="0 0 24 24" fill="none" stroke="#3b82f6" stroke-width="2" stroke-linecap="round" stroke-linejoin="round" ><path d="M10 13a5 5 0 0 0 7.54.54l3-3a5 5 0 0 0-7.07-7.07l-1.72 1.71"/><path d="M14 11a5 5 0 0 0-7.54-.54l-3 3a5 5 0 0 0 7.07 7.07l1.71-1.71"/></svg>
<div class="t" style="left:1251px;top:1449.6px;font-size:24px;color:#52575e;letter-spacing:1.8px;">52804</div>
<div class="t" style="left:1745px;top:1442.2px;font-size:28px;color:#111;-webkit-text-stroke:0.45px currentColor;letter-spacing:0.8px;">10 hours ago</div>
<div class="t" style="left:2037px;top:1442.2px;font-size:28px;color:#111;-webkit-text-stroke:0.45px currentColor;letter-spacing:0.5px;">8 days</div>
<div class="t" style="left:2217px;top:1442.2px;font-size:28px;color:#111;-webkit-text-stroke:0.45px currentColor;letter-spacing:1.0px;">15</div>
<div class="a" style="left:2448px;top:1440px;width:160px;height:42px;background:#fff;border:2px solid #d4d4d8;border-radius:21px;box-shadow:0 1px 2px rgba(0,0,0,.06)"></div>
<svg style="left:2469px;top:1449px" width="24" height="24" viewBox="0 0 24 24" fill="none" stroke="#16a34a" stroke-width="1.6" stroke-linecap="round" stroke-linejoin="round" ><path d="M20 6 9 17l-5-5"/></svg>
<div class="t" style="left:2498px;top:1449.6px;font-size:24px;color:#1a1a1a;-webkit-text-stroke:0.45px currentColor;letter-spacing:0.4px;">Resolve</div>
<div class="a" style="left:2622px;top:1440px;width:144px;height:42px;background:#fff;border:2px solid #d4d4d8;border-radius:21px;box-shadow:0 1px 2px rgba(0,0,0,.06)"></div>
<svg style="left:2643px;top:1449px" width="24" height="24" viewBox="0 0 24 24" fill="none" stroke="#4b5563" stroke-width="1.6" stroke-linecap="round" stroke-linejoin="round" ><path d="M10.733 5.076a10.744 10.744 0 0 1 11.205 6.575 1 1 0 0 1 0 .696 10.747 10.747 0 0 1-1.444 2.49"/><path d="M14.084 14.158a3 3 0 0 1-4.242-4.242"/><path d="M17.479 17.499a10.75 10.75 0 0 1-15.417-5.151 1 1 0 0 1 0-.696 10.75 10.75 0 0 1 4.446-5.143"/><path d="m2 2 20 20"/></svg>
<div class="t" style="left:2672px;top:1449.6px;font-size:24px;color:#1a1a1a;-webkit-text-stroke:0.45px currentColor;letter-spacing:0.6px;">Ignore</div>
<div class="a" style="left:972px;top:1495px;width:737px;height:43px;background:#fff;border:2px solid #d6d6dc;border-radius:8px;box-shadow:0 1px 2px rgba(0,0,0,.06)"></div>
<svg style="left:985px;top:1505px" width="24" height="24" viewBox="0 0 24 24" fill="none" stroke="#222" stroke-width="1.7" stroke-linecap="round" stroke-linejoin="round" ><path d="m7 15 5 5 5-5"/><path d="m7 9 5-5 5 5"/></svg>
<div class="t" style="left:1017.5px;top:1505.6px;font-size:24px;color:#111;letter-spacing:0.7px;"><span style="color:#6b7280">Full traceback</span> ...500: Internal error: Uncomparable values:...</div>
<div class="a" style="left:969px;top:1557px;width:128px;height:44px;background:#f7fcee;border:2px solid #d9f1b2;border-radius:8px"></div>
<div class="t" style="left:969px;top:1569.5px;font-size:20px;color:#416414;letter-spacing:0.8px;width:128px;text-align:center;-webkit-text-stroke:0.25px #416414;">crud-api</div>
<div class="a" style="left:1109.2px;top:1557px;width:128px;height:44px;background:#fff;border:2px solid #d4d6db;border-radius:8px"></div>
<div class="t" style="left:1109.2px;top:1569.5px;font-size:20px;color:#27272a;letter-spacing:0.8px;width:128px;text-align:center;-webkit-text-stroke:0.25px #27272a;">prod</div>
<div class="a" style="left:1249.4px;top:1557px;width:128px;height:44px;background:#fff;border:2px solid #d4d6db;border-radius:8px"></div>
<div class="t" style="left:1249.4px;top:1569.5px;font-size:20px;color:#27272a;letter-spacing:0.8px;width:128px;text-align:center;-webkit-text-stroke:0.25px #27272a;">prod-eu</div>
<div class="a" style="left:1389.6000000000001px;top:1557px;width:957.3999999999999px;height:44px;background:#fff;border:2px solid #d4d6db;border-radius:8px"></div>
<div class="t" style="left:1399.6000000000001px;top:1569.8px;font-size:24px;color:#2b2b2b;letter-spacing:0px;font-family:'Liberation Mono',monospace;width:937.3999999999999px;overflow:hidden;">POST /api/organizations/stuart/projects/starter-project/fetch-qu…</div>
<div class="t" style="left:2362px;top:1567.6px;font-size:24px;color:#2f7bd9;letter-spacing:0.6px;-webkit-text-stroke:0.35px #2f7bd9;">View spans</div>
<svg style="left:2499px;top:1567px" width="24" height="24" viewBox="0 0 24 24" fill="none" stroke="#2f7bd9" stroke-width="2" stroke-linecap="round" stroke-linejoin="round" ><path d="M21 13v6a2 2 0 0 1-2 2H5a2 2 0 0 1-2-2V5a2 2 0 0 1 2-2h6"/><path d="m21 3-9 9"/><path d="M15 3h6v6"/></svg>
<div class="a" style="left:2557px;top:1552px;width:213px;height:42px;background:#faf5ff;border:2px solid #e8cffa;border-radius:21px;box-shadow:0 1px 2px rgba(0,0,0,.05)"></div>
<svg style="left:2581px;top:1562px" width="25" height="25" viewBox="0 0 24 24" fill="none" stroke="#e026e5" stroke-width="2" stroke-linecap="round" stroke-linejoin="round" ><path d="M9.937 15.5A2 2 0 0 0 8.5 14.063l-6.135-1.582a.5.5 0 0 1 0-.962L8.5 9.936A2 2 0 0 0 9.937 8.5l1.582-6.135a.5.5 0 0 1 .963 0L14.063 8.5A2 2 0 0 0 15.5 9.937l6.135 1.581a.5.5 0 0 1 0 .964L15.5 14.063a2 2 0 0 0-1.437 1.437l-1.582 6.135a.5.5 0 0 1-.963 0z"/><path d="M20 3v4"/><path d="M22 5h-4"/><path d="M4 17v2"/><path d="M5 18H3"/></svg>
<div class="t" style="left:2614px;top:1563.0px;font-size:20px;color:#111;-webkit-text-stroke:0.45px currentColor;letter-spacing:0.9px;">Fix with AI</div>
<svg style="left:2723px;top:1561px" width="24" height="24" viewBox="0 0 24 24" fill="none" stroke="#111" stroke-width="2" stroke-linecap="round" stroke-linejoin="round" ><path d="m6 9 6 6 6-6"/></svg>
<div class="a" style="left:935px;top:1651px;width:1867px;height:224px;background:#fff;border:2px solid #d5d7dc;border-radius:14px"></div>
<div class="t" style="left:970px;top:1687.2px;font-size:28px;color:#1a1a1a;font-weight:700;letter-spacing:0px;">HTTPException</div>
<div class="a" style="left:1196px;top:1680px;width:151px;height:42px;background:#fff;border:2px solid #d4d4d8;border-radius:21px;box-shadow:0 1px 2px rgba(0,0,0,.05)"></div>
<svg style="left:1217px;top:1689px" width="24" height="24" viewBox="0 0 24 24" fill="none" stroke="#3b82f6" stroke-width="2" stroke-linecap="round" stroke-linejoin="round" ><path d="M10 13a5 5 0 0 0 7.54.54l3-3a5 5 0 0 0-7.07-7.07l-1.72 1.71"/><path d="M14 11a5 5 0 0 0-7.54-.54l-3 3a5 5 0 0 0 7.07 7.07l1.71-1.71"/></svg>
<div class="t" style="left:1251px;top:1689.6px;font-size:24px;color:#52575e;letter-spacing:1.8px;">52534</div>
<div class="t" style="left:1745px;top:1682.2px;font-size:28px;color:#111;-webkit-text-stroke:0.45px currentColor;letter-spacing:0.8px;">11 hours ago</div>
<div class="t" style="left:2037px;top:1682.2px;font-size:28px;color:#111;-webkit-text-stroke:0.45px currentColor;letter-spacing:0.5px;">8 days</div>
<div class="t" style="left:2217px;top:1682.2px;font-size:28px;color:#111;-webkit-text-stroke:0.45px currentColor;letter-spacing:1.0px;">49</div>
<div class="a" style="left:2448px;top:1680px;width:160px;height:42px;background:#fff;border:2px solid #d4d4d8;border-radius:21px;box-shadow:0 1px 2px rgba(0,0,0,.06)"></div>
<svg style="left:2469px;top:1689px" width="24" height="24" viewBox="0 0 24 24" fill="none" stroke="#16a34a" stroke-width="1.6" stroke-linecap="round" stroke-linejoin="round" ><path d="M20 6 9 17l-5-5"/></svg>
<div class="t" style="left:2498px;top:1689.6px;font-size:24px;color:#1a1a1a;-webkit-text-stroke:0.45px currentColor;letter-spacing:0.4px;">Resolve</div>
<div class="a" style="left:2622px;top:1680px;width:144px;height:42px;background:#fff;border:2px solid #d4d4d8;border-radius:21px;box-shadow:0 1px 2px rgba(0,0,0,.06)"></div>
<svg style="left:2643px;top:1689px" width="24" height="24" viewBox="0 0 24 24" fill="none" stroke="#4b5563" stroke-width="1.6" stroke-linecap="round" stroke-linejoin="round" ><path d="M10.733 5.076a10.744 10.744 0 0 1 11.205 6.575 1 1 0 0 1 0 .696 10.747 10.747 0 0 1-1.444 2.49"/><path d="M14.084 14.158a3 3 0 0 1-4.242-4.242"/><path d="M17.479 17.499a10.75 10.75 0 0 1-15.417-5.151 1 1 0 0 1 0-.696 10.75 10.75 0 0 1 4.446-5.143"/><path d="m2 2 20 20"/></svg>
<div class="t" style="left:2672px;top:1689.6px;font-size:24px;color:#1a1a1a;-webkit-text-stroke:0.45px currentColor;letter-spacing:0.6px;">Ignore</div>
<div class="a" style="left:972px;top:1735px;width:737px;height:43px;background:#fff;border:2px solid #d6d6dc;border-radius:8px;box-shadow:0 1px 2px rgba(0,0,0,.06)"></div>
<svg style="left:985px;top:1745px" width="24" height="24" viewBox="0 0 24 24" fill="none" stroke="#222" stroke-width="1.7" stroke-linecap="round" stroke-linejoin="round" ><path d="m7 15 5 5 5-5"/><path d="m7 9 5-5 5 5"/></svg>
<div class="t" style="left:1017.5px;top:1745.6px;font-size:24px;color:#111;letter-spacing:0.7px;"><span style="color:#6b7280">Full traceback</span> ...500: internal error: error with upstream w...</div>
<div class="a" style="left:969px;top:1797px;width:128px;height:44px;background:#f7fcee;border:2px solid #d9f1b2;border-radius:8px"></div>
<div class="t" style="left:969px;top:1809.5px;font-size:20px;color:#416414;letter-spacing:0.8px;width:128px;text-align:center;-webkit-text-stroke:0.25px #416414;">crud-api</div>
<div class="a" style="left:1109.2px;top:1797px;width:128px;height:44px;background:#fff;border:2px solid #d4d6db;border-radius:8px"></div>
<div class="t" style="left:1109.2px;top:1809.5px;font-size:20px;color:#27272a;letter-spacing:0.8px;width:128px;text-align:center;-webkit-text-stroke:0.25px #27272a;">prod</div>
<div class="a" style="left:1249.4px;top:1797px;width:128px;height:44px;background:#fff;border:2px solid #d4d6db;border-radius:8px"></div>
<div class="t" style="left:1249.4px;top:1809.5px;font-size:20px;color:#27272a;letter-spacing:0.8px;width:128px;text-align:center;-webkit-text-stroke:0.25px #27272a;">prod-eu</div>
<div class="a" style="left:1389.6000000000001px;top:1797px;width:128px;height:44px;background:#fff;border:2px solid #d4d6db;border-radius:8px"></div>
<div class="t" style="left:1389.6000000000001px;top:1809.5px;font-size:20px;color:#27272a;letter-spacing:0.8px;width:128px;text-align:center;-webkit-text-stroke:0.25px #27272a;">staging-eu</div>
<div class="a" style="left:1529.8000000000002px;top:1797px;width:817.1999999999998px;height:44px;background:#fff;border:2px solid #d4d6db;border-radius:8px"></div>
<div class="t" style="left:1539.8000000000002px;top:1809.8px;font-size:24px;color:#2b2b2b;letter-spacing:0px;font-family:'Liberation Mono',monospace;width:797.1999999999998px;overflow:hidden;">POST /api/organizations/maor/projects/base44-v1/query …</div>
<div class="t" style="left:2362px;top:1807.6px;font-size:24px;color:#2f7bd9;letter-spacing:0.6px;-webkit-text-stroke:0.35px #2f7bd9;">View spans</div>
<svg style="left:2499px;top:1807px" width="24" height="24" viewBox="0 0 24 24" fill="none" stroke="#2f7bd9" stroke-width="2" stroke-linecap="round" stroke-linejoin="round" ><path d="M21 13v6a2 2 0 0 1-2 2H5a2 2 0 0 1-2-2V5a2 2 0 0 1 2-2h6"/><path d="m21 3-9 9"/><path d="M15 3h6v6"/></svg>
<div class="a" style="left:2557px;top:1792px;width:213px;height:42px;background:#faf5ff;border:2px solid #e8cffa;border-radius:21px;box-shadow:0 1px 2px rgba(0,0,0,.05)"></div>
<svg style="left:2581px;top:1802px" width="25" height="25" viewBox="0 0 24 24" fill="none" stroke="#e026e5" stroke-width="2" stroke-linecap="round" stroke-linejoin="round" ><path d="M9.937 15.5A2 2 0 0 0 8.5 14.063l-6.135-1.582a.5.5 0 0 1 0-.962L8.5 9.936A2 2 0 0 0 9.937 8.5l1.582-6.135a.5.5 0 0 1 .963 0L14.063 8.5A2 2 0 0 0 15.5 9.937l6.135 1.581a.5.5 0 0 1 0 .964L15.5 14.063a2 2 0 0 0-1.437 1.437l-1.582 6.135a.5.5 0 0 1-.963 0z"/><path d="M20 3v4"/><path d="M22 5h-4"/><path d="M4 17v2"/><path d="M5 18H3"/></svg>
<div class="t" style="left:2614px;top:1803.0px;font-size:20px;color:#111;-webkit-text-stroke:0.45px currentColor;letter-spacing:0.9px;">Fix with AI</div>
<svg style="left:2723px;top:1801px" width="24" height="24" viewBox="0 0 24 24" fill="none" stroke="#111" stroke-width="2" stroke-linecap="round" stroke-linejoin="round" ><path d="m6 9 6 6 6-6"/></svg>
<div class="a" style="left:3002px;top:258px;width:22px;height:1631px;background:#fcfcfc"></div>
<div class="a" style="left:3008px;top:263px;width:12px;height:123px;background:#5f6368;border-radius:6px"></div>
</div>
<div id="win" class="a">
  <div id="toolbar" class="a"></div>
  <div id="tab" class="a"></div>
  <!-- tab inverse curves -->
  <div class="a" style="left:164px;top:59px;width:22px;height:22px;background:radial-gradient(circle at 0 0,#241c30 21.5px,#3f3649 22.5px)"></div>
  <div class="a" style="left:650px;top:59px;width:22px;height:22px;background:radial-gradient(circle at 100% 0,#241c30 21.5px,#3f3649 22.5px)"></div>
  <div class="a tl" style="left:42px;background:#ff5f57"></div>
  <div class="a tl" style="left:82px;background:#febc2e"></div>
  <div class="a tl" style="left:122px;background:#28c840"></div>
  <!-- pydantic favicon -->
  <svg style="left:201px;top:26px" width="34" height="30" viewBox="0 0 34 30"><path d="M16.5 1.7 L32.1 22 L16.5 27.6 L1.1 22.3 Z M9.6 14.1 Q16.5 10.5 23.6 14.1 M16.5 12.3 L16.5 27.6" fill="none" stroke="#e628ee" stroke-width="2.7" stroke-linejoin="round"/></svg>
  <div class="t" style="left:251px;top:29px;font-size:24px;color:#e4dcec;width:334px;letter-spacing:0.55px;-webkit-text-stroke:0.3px #e4dcec;overflow:hidden;-webkit-mask-image:linear-gradient(90deg,#000 85%,transparent 100%)">Alerts · logfire/logfire · Pydantic Logfire</div>
  <svg style="left:607px;top:31px" width="20" height="20" viewBox="0 0 20 20"><path d="M3 3L17 17M17 3L3 17" stroke="#e4dcec" stroke-width="2.6"/></svg>
  <svg style="left:676px;top:28px" width="26" height="26" viewBox="0 0 26 26"><path d="M13 2V24M2 13H24" stroke="#e4dcec" stroke-width="2.8"/></svg>
  <!-- tab search dropdown -->
  <div class="a" style="left:2956px;top:13px;width:56px;height:56px;border-radius:18px;background:#3f3649"></div>
  <svg style="left:2974px;top:34px" width="20" height="14" viewBox="0 0 20 14"><path d="M2 3L10 11L18 3" fill="none" stroke="#e4dcec" stroke-width="2.8"/></svg>
  <!-- nav buttons -->
  <svg style="left:31px;top:114px" width="26" height="26" viewBox="0 0 26 26"><path d="M25 13H2.5M13 2L2 13L13 24" fill="none" stroke="#d8c8e6" stroke-width="2.4"/></svg>
  <svg style="left:103px;top:114px" width="26" height="26" viewBox="0 0 26 26"><path d="M1 13H23.5M13 2L24 13L13 24" fill="none" stroke="#8a7f96" stroke-width="2.4"/></svg>
  <svg style="left:175px;top:114px" width="26" height="26" viewBox="0 0 26 26"><path d="M23.83 14.71A11 11 0 1 1 18.5 3.27" fill="none" stroke="#d8c8e6" stroke-width="2.4"/><path d="M15 10.2H25V0.8" fill="none" stroke="#d8c8e6" stroke-width="2.4"/></svg>
  <div id="omni" class="a"></div>
  <div class="a" style="left:250px;top:103px;width:48px;height:48px;border-radius:50%;background:#3f3649"></div>
  <svg style="left:262px;top:115px" width="24" height="24" viewBox="0 0 24 24"><circle cx="4.5" cy="5" r="2.8" fill="none" stroke="#e4dcec" stroke-width="2.2"/><path d="M10 5H22M2 18H13" stroke="#e4dcec" stroke-width="2.2"/><circle cx="18.5" cy="18" r="2.8" fill="none" stroke="#e4dcec" stroke-width="2.2"/></svg>
  <div class="t" style="left:314px;top:114px;font-size:28px;color:#ece4f2;letter-spacing:1.0px;-webkit-text-stroke:0.3px #ece4f2">logfire-eu.pydantic.info/logfire/logfire/alerts/issues</div>
  <svg style="left:2371px;top:111px" width="30" height="30" viewBox="0 0 30 30"><path d="M15 2.5L18.3 11.2L27.5 11.5L20.3 17.2L22.8 26.2L15 21L7.2 26.2L9.7 17.2L2.5 11.5L11.7 11.2Z" fill="none" stroke="#e4dcec" stroke-width="2.4" stroke-linejoin="miter"/></svg>
  <div class="a" style="left:2976.5px;top:112.5px;width:7px;height:7px;border-radius:50%;background:#d8c8e6"></div>
  <div class="a" style="left:2976.5px;top:123.5px;width:7px;height:7px;border-radius:50%;background:#d8c8e6"></div>
  <div class="a" style="left:2976.5px;top:134.5px;width:7px;height:7px;border-radius:50%;background:#d8c8e6"></div>
  <div class="a" style="left:0;top:173px;width:3024px;height:2px;background:#4a4452"></div>
</div>
<div id="winborder" class="a"></div>

</body></html>
